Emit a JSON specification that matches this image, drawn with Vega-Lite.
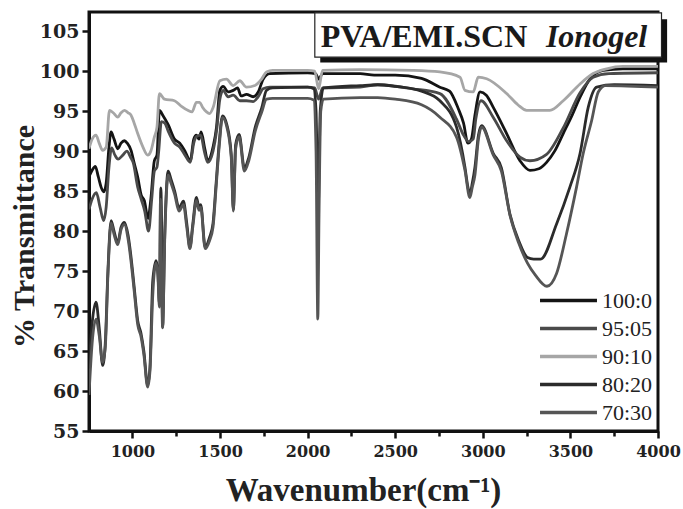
{
  "$schema": "https://vega.github.io/schema/vega-lite/v6.json",
  "width": 569,
  "height": 419,
  "autosize": {"type": "none"},
  "padding": {"left": 89, "top": 12, "right": 25, "bottom": 78},
  "background": "white",
  "config": {
    "view": {"stroke": "#111", "strokeWidth": 3},
    "axis": {
      "domainColor": "#111", "domainWidth": 3, "tickColor": "#111", "tickWidth": 2.5,
      "labelFont": "DejaVu Serif", "labelFontWeight": "bold", "labelColor": "#222",
      "titleFont": "Liberation Serif", "titleFontWeight": "bold", "titleColor": "#222",
      "grid": false
    }
  },
  "datasets": {
    "spectra": [
      {"s":"100:0","w":752,"t":86.8},{"s":"100:0","w":770,"t":87.6},{"s":"100:0","w":788,"t":88.1},{"s":"100:0","w":805,"t":86.8},{"s":"100:0","w":821,"t":85.5},{"s":"100:0","w":836,"t":84.9},{"s":"100:0","w":850,"t":86},{"s":"100:0","w":866,"t":90.5},{"s":"100:0","w":878,"t":92.4},{"s":"100:0","w":895,"t":91.5},{"s":"100:0","w":916,"t":90.3},{"s":"100:0","w":935,"t":91},{"s":"100:0","w":954,"t":91.3},{"s":"100:0","w":970,"t":91},{"s":"100:0","w":992,"t":90.1},{"s":"100:0","w":1010,"t":88.5},{"s":"100:0","w":1030,"t":86.75},{"s":"100:0","w":1050,"t":84.5},{"s":"100:0","w":1068,"t":83.8},{"s":"100:0","w":1089,"t":81.6},{"s":"100:0","w":1105,"t":84},{"s":"100:0","w":1125,"t":88.8},{"s":"100:0","w":1140,"t":89.5},{"s":"100:0","w":1154,"t":95.1},{"s":"100:0","w":1173,"t":94.5},{"s":"100:0","w":1204,"t":93.3},{"s":"100:0","w":1240,"t":91.5},{"s":"100:0","w":1270,"t":91},{"s":"100:0","w":1300,"t":90},{"s":"100:0","w":1330,"t":88.8},{"s":"100:0","w":1350,"t":91.5},{"s":"100:0","w":1365,"t":92},{"s":"100:0","w":1380,"t":91.5},{"s":"100:0","w":1392,"t":92.4},{"s":"100:0","w":1413,"t":90.3},{"s":"100:0","w":1430,"t":88.8},{"s":"100:0","w":1460,"t":90.5},{"s":"100:0","w":1480,"t":93},{"s":"100:0","w":1499,"t":97.6},{"s":"100:0","w":1518,"t":98.1},{"s":"100:0","w":1546,"t":97.4},{"s":"100:0","w":1575,"t":97.6},{"s":"100:0","w":1600,"t":97.9},{"s":"100:0","w":1620,"t":96.9},{"s":"100:0","w":1651,"t":97.1},{"s":"100:0","w":1689,"t":96.8},{"s":"100:0","w":1718,"t":97.4},{"s":"100:0","w":1746,"t":99},{"s":"100:0","w":1784,"t":99.7},{"s":"100:0","w":2000,"t":99.8},{"s":"100:0","w":2045,"t":99.7},{"s":"100:0","w":2063,"t":99},{"s":"100:0","w":2085,"t":99.7},{"s":"100:0","w":2300,"t":99.7},{"s":"100:0","w":2380,"t":99.5},{"s":"100:0","w":2500,"t":99.5},{"s":"100:0","w":2650,"t":99.1},{"s":"100:0","w":2755,"t":98},{"s":"100:0","w":2810,"t":97.5},{"s":"100:0","w":2860,"t":95.3},{"s":"100:0","w":2890,"t":93.5},{"s":"100:0","w":2915,"t":91},{"s":"100:0","w":2935,"t":91.5},{"s":"100:0","w":2955,"t":94.5},{"s":"100:0","w":2984,"t":97.4},{"s":"100:0","w":3020,"t":97},{"s":"100:0","w":3059,"t":95.5},{"s":"100:0","w":3136,"t":92.2},{"s":"100:0","w":3212,"t":88.8},{"s":"100:0","w":3269,"t":87.6},{"s":"100:0","w":3320,"t":87.8},{"s":"100:0","w":3364,"t":88.6},{"s":"100:0","w":3410,"t":90},{"s":"100:0","w":3459,"t":92.2},{"s":"100:0","w":3510,"t":94.5},{"s":"100:0","w":3555,"t":96.75},{"s":"100:0","w":3612,"t":99.05},{"s":"100:0","w":3688,"t":100.1},{"s":"100:0","w":3800,"t":100.3},{"s":"100:0","w":4000,"t":100.3},

      {"s":"95:05","w":752,"t":82.7},{"s":"95:05","w":770,"t":84},{"s":"95:05","w":794,"t":84.8},{"s":"95:05","w":815,"t":83},{"s":"95:05","w":836,"t":81.3},{"s":"95:05","w":850,"t":83},{"s":"95:05","w":866,"t":88},{"s":"95:05","w":881,"t":90.4},{"s":"95:05","w":900,"t":89.5},{"s":"95:05","w":918,"t":89},{"s":"95:05","w":945,"t":89.5},{"s":"95:05","w":968,"t":90},{"s":"95:05","w":990,"t":89.2},{"s":"95:05","w":1005,"t":88.5},{"s":"95:05","w":1030,"t":85.5},{"s":"95:05","w":1050,"t":84},{"s":"95:05","w":1070,"t":82.5},{"s":"95:05","w":1092,"t":80},{"s":"95:05","w":1110,"t":84},{"s":"95:05","w":1125,"t":87.5},{"s":"95:05","w":1140,"t":88},{"s":"95:05","w":1150,"t":90},{"s":"95:05","w":1165,"t":93.7},{"s":"95:05","w":1185,"t":93.5},{"s":"95:05","w":1204,"t":92.5},{"s":"95:05","w":1240,"t":91},{"s":"95:05","w":1270,"t":90.5},{"s":"95:05","w":1300,"t":89.5},{"s":"95:05","w":1330,"t":88.6},{"s":"95:05","w":1350,"t":91},{"s":"95:05","w":1365,"t":91.8},{"s":"95:05","w":1390,"t":92},{"s":"95:05","w":1410,"t":90},{"s":"95:05","w":1430,"t":88.6},{"s":"95:05","w":1460,"t":90},{"s":"95:05","w":1480,"t":92.5},{"s":"95:05","w":1499,"t":96.5},{"s":"95:05","w":1518,"t":97.6},{"s":"95:05","w":1546,"t":96.8},{"s":"95:05","w":1575,"t":97},{"s":"95:05","w":1613,"t":96.3},{"s":"95:05","w":1651,"t":96.3},{"s":"95:05","w":1689,"t":96.2},{"s":"95:05","w":1718,"t":96.8},{"s":"95:05","w":1746,"t":97.8},{"s":"95:05","w":1784,"t":98},{"s":"95:05","w":2000,"t":98},{"s":"95:05","w":2040,"t":97.9},{"s":"95:05","w":2063,"t":96.5},{"s":"95:05","w":2085,"t":97.9},{"s":"95:05","w":2300,"t":98},{"s":"95:05","w":2400,"t":98.3},{"s":"95:05","w":2600,"t":97.8},{"s":"95:05","w":2755,"t":97.2},{"s":"95:05","w":2850,"t":94},{"s":"95:05","w":2890,"t":92},{"s":"95:05","w":2920,"t":91.2},{"s":"95:05","w":2945,"t":91.5},{"s":"95:05","w":2960,"t":94},{"s":"95:05","w":2990,"t":96.3},{"s":"95:05","w":3059,"t":94.25},{"s":"95:05","w":3136,"t":91.3},{"s":"95:05","w":3212,"t":89.25},{"s":"95:05","w":3269,"t":88.8},{"s":"95:05","w":3364,"t":89.6},{"s":"95:05","w":3459,"t":92.9},{"s":"95:05","w":3555,"t":97.3},{"s":"95:05","w":3630,"t":99.25},{"s":"95:05","w":3720,"t":99.7},{"s":"95:05","w":4000,"t":99.8},

      {"s":"90:10","w":752,"t":90.3},{"s":"90:10","w":770,"t":91.5},{"s":"90:10","w":792,"t":92},{"s":"90:10","w":810,"t":91},{"s":"90:10","w":830,"t":90.1},{"s":"90:10","w":850,"t":90.5},{"s":"90:10","w":869,"t":95.1},{"s":"90:10","w":890,"t":94.8},{"s":"90:10","w":916,"t":94.25},{"s":"90:10","w":935,"t":94.8},{"s":"90:10","w":954,"t":95.1},{"s":"90:10","w":975,"t":94.8},{"s":"90:10","w":992,"t":94.5},{"s":"90:10","w":1010,"t":93.5},{"s":"90:10","w":1030,"t":92.2},{"s":"90:10","w":1060,"t":90.5},{"s":"90:10","w":1087,"t":89.5},{"s":"90:10","w":1105,"t":90},{"s":"90:10","w":1125,"t":91.75},{"s":"90:10","w":1140,"t":93},{"s":"90:10","w":1154,"t":97.2},{"s":"90:10","w":1183,"t":96.5},{"s":"90:10","w":1240,"t":96.3},{"s":"90:10","w":1280,"t":95.6},{"s":"90:10","w":1316,"t":95.1},{"s":"90:10","w":1340,"t":94.9},{"s":"90:10","w":1365,"t":96.1},{"s":"90:10","w":1384,"t":96.1},{"s":"90:10","w":1400,"t":95.5},{"s":"90:10","w":1423,"t":94.9},{"s":"90:10","w":1440,"t":94.7},{"s":"90:10","w":1461,"t":95.5},{"s":"90:10","w":1499,"t":98.8},{"s":"90:10","w":1537,"t":99},{"s":"90:10","w":1575,"t":98.2},{"s":"90:10","w":1613,"t":98.8},{"s":"90:10","w":1651,"t":98},{"s":"90:10","w":1699,"t":98.2},{"s":"90:10","w":1737,"t":99},{"s":"90:10","w":1765,"t":99.9},{"s":"90:10","w":1800,"t":100.1},{"s":"90:10","w":2000,"t":100.1},{"s":"90:10","w":2040,"t":100},{"s":"90:10","w":2063,"t":97.8},{"s":"90:10","w":2085,"t":100.1},{"s":"90:10","w":2300,"t":100.2},{"s":"90:10","w":2600,"t":100.1},{"s":"90:10","w":2755,"t":99.9},{"s":"90:10","w":2870,"t":99.25},{"s":"90:10","w":2898,"t":97.6},{"s":"90:10","w":2945,"t":97.4},{"s":"90:10","w":2974,"t":99.25},{"s":"90:10","w":3022,"t":99.05},{"s":"90:10","w":3136,"t":97.2},{"s":"90:10","w":3200,"t":95.8},{"s":"90:10","w":3250,"t":95.1},{"s":"90:10","w":3383,"t":95.1},{"s":"90:10","w":3459,"t":96.3},{"s":"90:10","w":3555,"t":98.4},{"s":"90:10","w":3630,"t":99.7},{"s":"90:10","w":3707,"t":100.3},{"s":"90:10","w":3800,"t":100.6},{"s":"90:10","w":4000,"t":100.6},

      {"s":"80:20","w":752,"t":63},{"s":"80:20","w":770,"t":68.5},{"s":"80:20","w":792,"t":71.1},{"s":"80:20","w":810,"t":68},{"s":"80:20","w":830,"t":63.2},{"s":"80:20","w":845,"t":66},{"s":"80:20","w":860,"t":75},{"s":"80:20","w":878,"t":81.3},{"s":"80:20","w":895,"t":80},{"s":"80:20","w":916,"t":78.5},{"s":"80:20","w":935,"t":80.5},{"s":"80:20","w":954,"t":81.1},{"s":"80:20","w":975,"t":79.5},{"s":"80:20","w":992,"t":76.75},{"s":"80:20","w":1010,"t":73},{"s":"80:20","w":1030,"t":68.8},{"s":"80:20","w":1049,"t":67.2},{"s":"80:20","w":1065,"t":65},{"s":"80:20","w":1087,"t":60.7},{"s":"80:20","w":1100,"t":63},{"s":"80:20","w":1116,"t":73.8},{"s":"80:20","w":1135,"t":76.3},{"s":"80:20","w":1145,"t":75},{"s":"80:20","w":1154,"t":70.9},{"s":"80:20","w":1162,"t":85.4},{"s":"80:20","w":1168,"t":78},{"s":"80:20","w":1172,"t":68},{"s":"80:20","w":1185,"t":80},{"s":"80:20","w":1204,"t":87.5},{"s":"80:20","w":1220,"t":86.5},{"s":"80:20","w":1241,"t":85},{"s":"80:20","w":1266,"t":82.9},{"s":"80:20","w":1291,"t":83.75},{"s":"80:20","w":1310,"t":81},{"s":"80:20","w":1328,"t":78},{"s":"80:20","w":1345,"t":81},{"s":"80:20","w":1365,"t":84.2},{"s":"80:20","w":1380,"t":83},{"s":"80:20","w":1390,"t":83.3},{"s":"80:20","w":1415,"t":78},{"s":"80:20","w":1440,"t":79.2},{"s":"80:20","w":1460,"t":81},{"s":"80:20","w":1477,"t":85.8},{"s":"80:20","w":1495,"t":91},{"s":"80:20","w":1514,"t":94.4},{"s":"80:20","w":1539,"t":93.3},{"s":"80:20","w":1564,"t":89.6},{"s":"80:20","w":1576,"t":82.7},{"s":"80:20","w":1589,"t":90.8},{"s":"80:20","w":1609,"t":92.1},{"s":"80:20","w":1639,"t":87.9},{"s":"80:20","w":1664,"t":89.2},{"s":"80:20","w":1701,"t":93},{"s":"80:20","w":1738,"t":95.4},{"s":"80:20","w":1765,"t":97.6},{"s":"80:20","w":1800,"t":97.9},{"s":"80:20","w":2000,"t":98},{"s":"80:20","w":2035,"t":97.8},{"s":"80:20","w":2048,"t":95},{"s":"80:20","w":2060,"t":82.5},{"s":"80:20","w":2072,"t":95},{"s":"80:20","w":2090,"t":97.9},{"s":"80:20","w":2300,"t":98.2},{"s":"80:20","w":2400,"t":98.3},{"s":"80:20","w":2500,"t":98.1},{"s":"80:20","w":2650,"t":97.5},{"s":"80:20","w":2755,"t":96.3},{"s":"80:20","w":2850,"t":93},{"s":"80:20","w":2898,"t":88},{"s":"80:20","w":2915,"t":85.5},{"s":"80:20","w":2926,"t":84.6},{"s":"80:20","w":2940,"t":86},{"s":"80:20","w":2955,"t":88},{"s":"80:20","w":2975,"t":92},{"s":"80:20","w":2993,"t":93.2},{"s":"80:20","w":3060,"t":89.7},{"s":"80:20","w":3106,"t":87.9},{"s":"80:20","w":3155,"t":82.1},{"s":"80:20","w":3205,"t":78.8},{"s":"80:20","w":3255,"t":76.7},{"s":"80:20","w":3290,"t":76.5},{"s":"80:20","w":3330,"t":76.5},{"s":"80:20","w":3421,"t":80.9},{"s":"80:20","w":3497,"t":85.5},{"s":"80:20","w":3555,"t":89.7},{"s":"80:20","w":3602,"t":95.5},{"s":"80:20","w":3650,"t":98},{"s":"80:20","w":3750,"t":98.3},{"s":"80:20","w":4000,"t":98.2},

      {"s":"70:30","w":752,"t":59.5},{"s":"70:30","w":770,"t":66},{"s":"70:30","w":792,"t":69},{"s":"70:30","w":810,"t":67},{"s":"70:30","w":830,"t":63.6},{"s":"70:30","w":845,"t":65.5},{"s":"70:30","w":860,"t":74.5},{"s":"70:30","w":878,"t":81},{"s":"70:30","w":895,"t":79.6},{"s":"70:30","w":916,"t":78.3},{"s":"70:30","w":935,"t":80.2},{"s":"70:30","w":954,"t":80.8},{"s":"70:30","w":975,"t":79},{"s":"70:30","w":992,"t":76.2},{"s":"70:30","w":1010,"t":72.5},{"s":"70:30","w":1030,"t":68.3},{"s":"70:30","w":1049,"t":66.8},{"s":"70:30","w":1065,"t":64.6},{"s":"70:30","w":1087,"t":60.5},{"s":"70:30","w":1100,"t":62.5},{"s":"70:30","w":1116,"t":72},{"s":"70:30","w":1135,"t":76},{"s":"70:30","w":1145,"t":74.5},{"s":"70:30","w":1154,"t":70.5},{"s":"70:30","w":1160,"t":84},{"s":"70:30","w":1166,"t":75},{"s":"70:30","w":1172,"t":67.9},{"s":"70:30","w":1185,"t":79.5},{"s":"70:30","w":1204,"t":87},{"s":"70:30","w":1220,"t":86},{"s":"70:30","w":1241,"t":84.6},{"s":"70:30","w":1266,"t":82.5},{"s":"70:30","w":1291,"t":83.3},{"s":"70:30","w":1310,"t":80.5},{"s":"70:30","w":1328,"t":77.8},{"s":"70:30","w":1345,"t":80.6},{"s":"70:30","w":1365,"t":83.8},{"s":"70:30","w":1380,"t":82.6},{"s":"70:30","w":1390,"t":83},{"s":"70:30","w":1415,"t":77.8},{"s":"70:30","w":1440,"t":78.8},{"s":"70:30","w":1460,"t":80.5},{"s":"70:30","w":1477,"t":85.3},{"s":"70:30","w":1495,"t":90.5},{"s":"70:30","w":1514,"t":94.2},{"s":"70:30","w":1539,"t":93},{"s":"70:30","w":1564,"t":89.2},{"s":"70:30","w":1576,"t":82.5},{"s":"70:30","w":1589,"t":90.3},{"s":"70:30","w":1609,"t":91.8},{"s":"70:30","w":1639,"t":87.5},{"s":"70:30","w":1664,"t":88.8},{"s":"70:30","w":1701,"t":92.5},{"s":"70:30","w":1738,"t":94.9},{"s":"70:30","w":1765,"t":96.5},{"s":"70:30","w":1800,"t":96.6},{"s":"70:30","w":2000,"t":96.6},{"s":"70:30","w":2035,"t":96.4},{"s":"70:30","w":2048,"t":90},{"s":"70:30","w":2058,"t":69},{"s":"70:30","w":2065,"t":82},{"s":"70:30","w":2075,"t":95},{"s":"70:30","w":2090,"t":96.5},{"s":"70:30","w":2300,"t":96.7},{"s":"70:30","w":2400,"t":96.7},{"s":"70:30","w":2500,"t":96.5},{"s":"70:30","w":2650,"t":95.8},{"s":"70:30","w":2755,"t":94.25},{"s":"70:30","w":2850,"t":91.75},{"s":"70:30","w":2898,"t":87.6},{"s":"70:30","w":2926,"t":84.2},{"s":"70:30","w":2940,"t":85.5},{"s":"70:30","w":2955,"t":87},{"s":"70:30","w":2975,"t":91.5},{"s":"70:30","w":2993,"t":93},{"s":"70:30","w":3060,"t":89.5},{"s":"70:30","w":3106,"t":87.5},{"s":"70:30","w":3155,"t":82},{"s":"70:30","w":3205,"t":78.5},{"s":"70:30","w":3255,"t":76},{"s":"70:30","w":3300,"t":74.5},{"s":"70:30","w":3366,"t":73.1},{"s":"70:30","w":3421,"t":74.7},{"s":"70:30","w":3478,"t":79.7},{"s":"70:30","w":3535,"t":85.5},{"s":"70:30","w":3573,"t":89.7},{"s":"70:30","w":3621,"t":93.8},{"s":"70:30","w":3659,"t":97.4},{"s":"70:30","w":3700,"t":98.2},{"s":"70:30","w":4000,"t":98}
    ]
  },
  "layer": [
    {
      "data": {"name": "spectra"},
      "mark": {"type": "line", "strokeWidth": 2.8, "interpolate": "monotone", "clip": true},
      "encoding": {
        "x": {
          "field": "w", "type": "quantitative",
          "scale": {"domain": [752, 4000], "nice": false, "zero": false},
          "axis": {
            "title": "Wavenumber(cm⁻¹)",
            "values": [1000,1250,1500,1750,2000,2250,2500,2750,3000,3250,3500,3750,4000],
            "format": "d",
            "labelExpr": "datum.value % 500 === 0 ? datum.label : ''",
            "tickSize": {"condition": {"test": "datum.value % 500 === 0", "value": 7}, "value": 5},
            "labelFontSize": 16, "labelPadding": 5, "labelFlush": false, "labelOverlap": false,
            "titleFontSize": 33, "titleBaseline": "alphabetic", "titleY": 69, "titleX": 274, "titleAlign": "center"
          }
        },
        "y": {
          "field": "t", "type": "quantitative",
          "scale": {"domain": [55, 107.4], "nice": false, "zero": false},
          "axis": {
            "title": "% Transmittance",
            "values": [55,57.5,60,62.5,65,67.5,70,72.5,75,77.5,80,82.5,85,87.5,90,92.5,95,97.5,100,102.5,105],
            "labelExpr": "datum.value % 5 === 0 ? format(datum.value, 'd') : ''",
            "tickSize": {"condition": {"test": "datum.value % 5 === 0", "value": 7}, "value": 5},
            "labelFontSize": 19, "labelPadding": 3, "labelFlush": false,
            "titleFontSize": 30, "titleBaseline": "alphabetic", "titleX": -56, "titleY": 224, "titleAngle": 270, "titleAlign": "center"
          }
        },
        "color": {
          "field": "s", "type": "nominal",
          "scale": {"domain": ["100:0","95:05","90:10","80:20","70:30"], "range": ["#141414","#4a4a4a","#a6a6a6","#2b2b2b","#555555"]},
          "legend": {
            "title": null, "orient": "none", "legendX": 467, "legendY": 276,
            "symbolType": "M-2.65,0H2.65", "symbolSize": 462, "symbolStrokeWidth": 3.5,
            "labelFont": "Liberation Serif", "labelFontSize": 22, "labelColor": "#222",
            "labelOffset": 21, "rowPadding": 4, "padding": 0
          }
        }
      }
    },
    {
      "data": {"values": [{}]},
      "mark": {"type": "rect", "fill": "#111", "clip": false},
      "encoding": {"x": {"datum": 2072}, "x2": {"datum": 4052}, "y": {"datum": 106.5}, "y2": {"datum": 101.1}}
    },
    {
      "data": {"values": [{}]},
      "mark": {"type": "rect", "fill": "white", "stroke": "#222", "strokeWidth": 1.2, "clip": false},
      "encoding": {"x": {"datum": 2041}, "x2": {"datum": 4020}, "y": {"datum": 107.3}, "y2": {"datum": 101.75}}
    },
    {
      "data": {"values": [{}]},
      "mark": {"type": "text", "font": "Liberation Serif", "fontWeight": "bold", "fontSize": 32, "align": "left", "baseline": "alphabetic", "color": "#1a1a1a"},
      "encoding": {"x": {"datum": 2075}, "y": {"datum": 103.0}, "text": {"value": "PVA/EMI.SCN"}}
    },
    {
      "data": {"values": [{}]},
      "mark": {"type": "text", "font": "Liberation Serif", "fontWeight": "bold", "fontStyle": "italic", "fontSize": 32, "align": "left", "baseline": "alphabetic", "color": "#1a1a1a"},
      "encoding": {"x": {"datum": 3360}, "y": {"datum": 103.0}, "text": {"value": "Ionogel"}}
    }
  ]
}
